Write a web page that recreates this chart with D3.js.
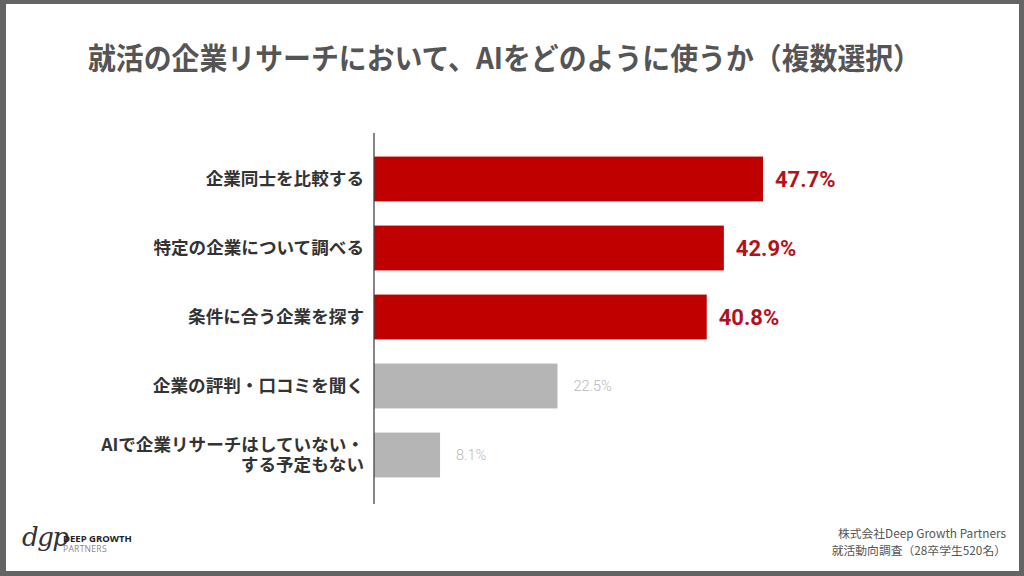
<!DOCTYPE html>
<html><head><meta charset="utf-8">
<script src="https://cdn.jsdelivr.net/npm/d3@7"></script>
<style>
html,body{margin:0;padding:0;background:#fff;}
svg{display:block;}
</style></head>
<body>
<svg id="c" width="1024" height="576"></svg>
<script>
const title = "就活の企業リサーチにおいて、AIをどのように使うか（複数選択）";
const categories = [
  ["企業同士を比較する"],
  ["特定の企業について調べる"],
  ["条件に合う企業を探す"],
  ["企業の評判・口コミを聞く"],
  ["AIで企業リサーチはしていない・", "する予定もない"]
];
const values = [47.7, 42.9, 40.8, 22.5, 8.1];
const highlighted = [true, true, true, false, false];
const footerLines = ["株式会社Deep Growth Partners", "就活動向調査（28卒学生520名）"];

const svg = d3.select("#c");
const W = 1024, H = 576;
const JP = "'Noto Sans CJK JP','Noto Sans',sans-serif";

// frame
svg.append("rect").attr("x",0).attr("y",0).attr("width",W).attr("height",H).attr("fill","#646464");
svg.append("rect").attr("x",6).attr("y",4).attr("width",W-6-5).attr("height",H-4-5).attr("fill","#fff");

// title
svg.append("text").attr("x",88).attr("y",69)
  .attr("font-family",JP).attr("font-weight",700).attr("font-size",29.5)
  .attr("textLength",833).attr("lengthAdjust","spacingAndGlyphs")
  .attr("fill","#555").text(title);

const x0 = 374;
const x = d3.scaleLinear().domain([0, 47.7]).range([x0, 763]);
const idx = d3.range(categories.length);
const y = d3.scaleBand().domain(idx).range([144.5, 489.5]).paddingInner(0.35).paddingOuter(0.175);

const g = svg.append("g");
g.selectAll("rect.bar").data(idx).join("rect").attr("class","bar")
  .attr("x", x(0)).attr("y", i => y(i)).attr("height", y.bandwidth())
  .attr("width", i => x(values[i]) - x(0))
  .attr("fill", i => highlighted[i] ? "#c00000" : "#b5b5b5");

// axis line
svg.append("line").attr("x1",x0).attr("x2",x0).attr("y1",133).attr("y2",504)
  .attr("stroke","#444").attr("stroke-width",1.3);

// category labels
idx.forEach(i => {
  const lines = categories[i];
  const cy = y(i) + y.bandwidth()/2;
  const lh = 19.5;
  const t = svg.append("text").attr("text-anchor","end")
    .attr("font-family",JP).attr("font-weight",700).attr("font-size",17.6).attr("fill","#333");
  lines.forEach((l, k) => {
    t.append("tspan").attr("x",364)
      .attr("y", cy + 6 + (k - (lines.length-1)/2) * lh).text(l);
  });
});

// value labels
idx.forEach(i => {
  const cy = y(i) + y.bandwidth()/2;
  svg.append("text")
    .attr("x", x(values[i]) + (highlighted[i] ? 12 : 16))
    .attr("y", cy + (highlighted[i] ? 8 : 5))
    .attr("font-family", "Roboto, sans-serif")
    .attr("font-weight", highlighted[i] ? 700 : 300)
    .attr("font-size", highlighted[i] ? 22 : 14.5)
    .attr("fill", highlighted[i] ? "#b3121b" : "#b8b8b8")
    .text(values[i].toFixed(1) + "%");
});

// footer
footerLines.forEach((l, k) => {
  svg.append("text").attr("x",1006).attr("y",538 + k*17).attr("text-anchor","end")
    .attr("font-family",JP).attr("font-size",11.8)
    .attr("fill","#555").text(l);
});

// logo
svg.append("text").attr("x",22).attr("y",546)
  .attr("font-family","'DejaVu Serif',serif").attr("font-style","italic").attr("font-size",26)
  .attr("fill","#333").attr("letter-spacing",-1.5).text("dgp");
svg.append("text").attr("x",63).attr("y",542)
  .attr("font-family","'Open Sans',sans-serif").attr("font-weight",700).attr("font-size",9.5)
  .attr("fill","#222").text("DEEP GROWTH");
svg.append("text").attr("x",63).attr("y",552)
  .attr("font-family","'Open Sans',sans-serif").attr("font-size",8.5)
  .attr("fill","#888").attr("letter-spacing",0.3).text("PARTNERS");
</script>
</body></html>
